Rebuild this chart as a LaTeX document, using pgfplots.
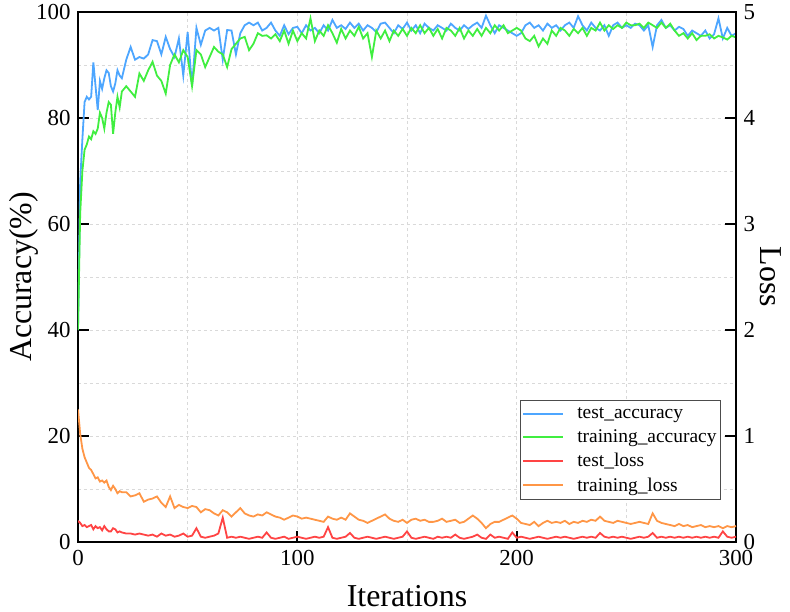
\documentclass[border=0pt]{standalone}
\usepackage{fontspec}
\setmainfont{Liberation Serif}
\usepackage{pgfplots}
\usepackage{pgfplotstable}
\pgfplotsset{compat=1.18}
\definecolor{accblue}{RGB}{77,166,255}
\definecolor{accgreen}{RGB}{64,238,64}
\definecolor{lossred}{RGB}{255,68,68}
\definecolor{lossorange}{RGB}{255,150,70}
\pgfplotsset{
  myaxis/.style={
    scale only axis, width=658bp, height=530bp,
    xmin=0, xmax=300,
    /pgf/number format/assume math mode=true,
    tick align=inside,
    major tick length=11bp,
    every tick/.style={black, solid, line width=2bp},
    axis line style={line width=2bp, black},
    ticklabel style={font=\fontsize{23}{23}\selectfont},
  },
}
\pgfplotstableread{
x ta tra tl trl
0 40 40 0.20 1.25
1 68 62 0.18 1.02
2 76 70 0.15 0.88
3 83 74 0.16 0.80
4 84 75 0.14 0.75
5 83.5 76.5 0.15 0.70
6 84 76 0.16 0.68
7 90.5 77.5 0.12 0.64
8 86 77 0.15 0.60
9 81.5 78 0.13 0.61
10 87 81 0.14 0.57
11 85.5 80 0.11 0.58
12 87.5 78 0.15 0.56
13 89 81 0.12 0.58
14 88.5 83 0.10 0.52
15 86 82.5 0.10 0.49
16 85 77 0.13 0.53
17 86.5 81 0.12 0.50
18 89 84 0.09 0.46
19 88 82 0.10 0.48
20 87.5 85 0.09 0.47
22 91 86 0.08 0.47
24 93.4 85 0.08 0.43
26 91 84 0.07 0.44
28 91.5 88.4 0.08 0.46
30 91.2 87 0.07 0.38
32 92 89 0.06 0.40
34 94.7 90.6 0.07 0.41
36 94.5 88 0.05 0.43
38 92 87 0.08 0.37
40 95.3 84.6 0.06 0.33
42 93 90 0.07 0.43
44 91.5 92 0.05 0.32
46 95 90.5 0.06 0.35
48 88 92.8 0.08 0.33
50 96.2 91.5 0.05 0.32
52 86 86 0.06 0.34
54 97 92.8 0.13 0.33
56 93.8 92 0.05 0.28
58 96.5 89.6 0.04 0.31
60 97 91.5 0.05 0.30
62 96.5 93.4 0.06 0.27
64 97 92.5 0.08 0.25
66 91 92 0.23 0.30
68 96.6 89.6 0.04 0.28
70 96.5 93 0.05 0.24
72 92 94 0.04 0.28
74 96 95 0.05 0.32
76 97.5 95.3 0.04 0.27
78 98 92.8 0.03 0.25
80 97.5 94 0.04 0.24
82 98 96 0.05 0.26
84 96.5 95.5 0.04 0.25
86 97 95.6 0.09 0.28
88 98 95 0.04 0.26
90 96.5 95.8 0.03 0.24
92 95.5 94.5 0.04 0.23
94 97.5 96.5 0.05 0.21
96 95.8 94 0.03 0.23
98 97 96.5 0.04 0.25
100 97.2 94.5 0.05 0.24
102 96 96 0.04 0.22
104 97.5 95 0.03 0.23
106 96.5 98.8 0.04 0.22
108 97 94.5 0.05 0.21
110 96 96.5 0.04 0.20
112 97.5 95.5 0.05 0.19
114 96.5 97.5 0.14 0.24
116 98.5 96 0.04 0.22
118 97 94.2 0.03 0.21
120 97.5 96.8 0.04 0.23
122 96.8 95 0.05 0.21
124 98 96.5 0.085 0.27
126 97 95.5 0.04 0.24
128 97.8 97.2 0.03 0.21
130 96.5 95 0.04 0.20
132 97.5 96 0.05 0.18
134 97 91.5 0.04 0.20
136 96.2 96.5 0.03 0.22
138 97.8 95 0.04 0.24
140 98 96.5 0.05 0.26
142 97 94.5 0.04 0.22
144 96 96.5 0.03 0.20
146 97.5 95.5 0.04 0.19
148 96.8 96.8 0.05 0.21
150 98 95.5 0.10 0.18
152 96.5 97 0.04 0.21
154 97.5 96 0.03 0.22
156 96 97.5 0.04 0.20
158 97.8 96 0.05 0.21
160 97 97 0.04 0.19
162 96.5 95.5 0.03 0.19
164 97.5 96.8 0.05 0.20
166 97 95 0.04 0.22
168 96.5 97 0.05 0.19
170 97.8 96.5 0.04 0.20
172 97 95.5 0.07 0.21
174 96.5 97 0.04 0.18
176 97.5 95 0.03 0.19
178 96.8 96.5 0.04 0.22
180 97.5 95.5 0.05 0.25
182 98 96.8 0.07 0.22
184 97 95.5 0.04 0.18
186 99.3 97 0.03 0.13
188 97.5 96 0.07 0.17
190 96 97.5 0.04 0.19
192 97.5 96.5 0.05 0.19
194 97 97.5 0.04 0.21
196 96.5 96 0.03 0.23
198 96 96.5 0.09 0.25
200 95.5 97 0.04 0.22
202 96 96.5 0.05 0.18
204 97.5 95 0.04 0.17
206 98 94.5 0.03 0.16
208 97 95.5 0.04 0.19
210 97.5 93.5 0.05 0.15
212 96.5 95 0.04 0.18
214 97.8 94 0.03 0.20
216 97 96.5 0.04 0.18
218 97.5 95.5 0.05 0.19
220 96.5 97 0.04 0.18
222 97.5 96.5 0.05 0.20
224 98 95.5 0.04 0.17
226 97 96.8 0.03 0.19
228 99.2 96 0.04 0.18
230 97.5 97 0.05 0.20
232 96.5 95.5 0.04 0.19
234 98 97 0.05 0.21
236 97 96.5 0.04 0.20
238 96.5 98 0.085 0.24
240 97.5 96.5 0.05 0.20
242 95.5 97.5 0.04 0.19
244 97.5 96.8 0.05 0.18
246 98 97.5 0.04 0.20
248 97 97 0.05 0.19
250 97.5 98 0.04 0.18
252 97 97.5 0.03 0.17
254 97.8 97.5 0.04 0.18
256 97.5 97.8 0.05 0.19
258 96.5 97 0.04 0.18
260 97.5 98 0.05 0.17
262 93.4 97.5 0.085 0.27
264 97.5 97 0.04 0.20
266 98.5 98 0.05 0.18
268 97 97 0.04 0.17
270 97.5 97.8 0.05 0.16
272 96.5 96.5 0.04 0.15
274 97.2 95.5 0.05 0.17
276 96.8 96 0.04 0.15
278 95.5 95 0.05 0.16
280 96.5 96 0.04 0.14
282 96 94.7 0.05 0.15
284 95.5 95.5 0.04 0.16
286 96.5 95.5 0.05 0.14
288 95 95.8 0.04 0.15
290 95.8 95 0.05 0.14
292 98.8 95.5 0.04 0.15
294 95 95.2 0.10 0.13
296 97 94.8 0.05 0.15
298 95.5 95.5 0.04 0.14
300 96 95.2 0.05 0.15
}\data
\begin{document}
\begin{tikzpicture}
\path[use as bounding box] (-78bp,-70bp) rectangle (712bp,542bp);
% grid only
\begin{axis}[
  scale only axis, width=658bp, height=530bp,
  xmin=0, xmax=300, ymin=0, ymax=100,
  xtick={0,50,...,300}, ytick={0,10,...,100},
  xticklabels={}, yticklabels={},
  major tick length=0pt,
  axis line style={draw=none},
  grid=major,
  major grid style={gray!30, dashed, line width=0.6bp},
]
\end{axis}
\begin{axis}[
  myaxis,
  ymin=0, ymax=100,
  xtick={0,100,200,300},
  ytick={0,20,40,60,80,100},
  xtick pos=bottom, ytick pos=left,
  yticklabel style={xshift=-4bp},
  xticklabel style={yshift=-5bp},
  xlabel={Iterations},
  ylabel={Accuracy(\%)},
  label style={font=\fontsize{32}{32}\selectfont},
  xlabel style={at={(axis description cs:0.5,-0.121)}, anchor=base},
  ylabel style={at={(axis description cs:-0.0714,0.5)}, anchor=base},
]
\addplot[color=accblue, line width=1.8bp] table[x=x, y=ta] {\data};
\addplot[color=accgreen, line width=1.8bp] table[x=x, y=tra] {\data};
\end{axis}
\begin{axis}[
  myaxis,
  ymin=0, ymax=5,
  axis y line*=right,
  axis x line=none,
  ytick={0,1,2,3,4,5},
  yticklabel style={xshift=4bp},
  ylabel={Loss},
  ylabel style={font=\fontsize{32}{32}\selectfont, at={(axis description cs:1.0365,0.5)}, anchor=base, rotate=180},
  legend cell align=left,
  legend style={at={(axis description cs:0.977,0.079)}, anchor=south east,
    draw=black!70, line width=0.8bp, fill=white,
    font=\fontsize{19.5}{19.5}\selectfont,
    row sep=5.5bp, inner xsep=2bp, inner ysep=5bp,
    /tikz/every odd column/.append style={column sep=11bp}},
  legend image code/.code={\draw[#1, line width=1.8bp] (0bp,0bp) -- (40bp,0bp);},
]
\addlegendimage{color=accblue}
\addlegendentry{test\_accuracy}
\addlegendimage{color=accgreen}
\addlegendentry{training\_accuracy}
\addplot[color=lossred, line width=1.8bp] table[x=x, y=tl] {\data};
\addlegendentry{test\_loss}
\addplot[color=lossorange, line width=1.8bp] table[x=x, y=trl] {\data};
\addlegendentry{training\_loss}
\end{axis}
\end{tikzpicture}
\end{document}
